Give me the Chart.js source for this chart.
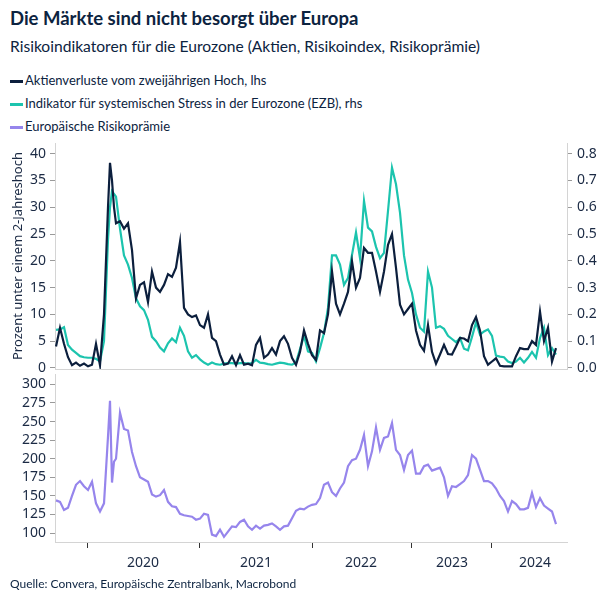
<!DOCTYPE html>
<html>
<head>
<meta charset="utf-8">
<script src="https://cdn.jsdelivr.net/npm/chart.js@4.4.1/dist/chart.umd.min.js"></script>
<style>
  body { margin: 0; background: #fff; font-family: Lato, "Noto Sans", sans-serif; color: #0c2340; }
  #wrap { position: relative; width: 604px; height: 604px; overflow: hidden; }
  .title { position: absolute; left: 10px; top: 7px; font-size: 18.5px; font-weight: bold; }
  .sub { position: absolute; left: 10px; top: 37px; font-size: 15.6px; }
  .leg { position: absolute; left: 10px; font-size: 13px; }
  .leg span { display: inline-block; width: 13px; height: 3px; margin-right: 2px; vertical-align: middle; }
  .src { position: absolute; left: 10px; top: 576px; font-size: 12px; }
  canvas { position: absolute; left: 0; }
</style>
</head>
<body>
<div id="wrap">
  <div class="title">Die Märkte sind nicht besorgt über Europa</div>
  <div class="sub">Risikoindikatoren für die Eurozone (Aktien, Risikoindex, Risikoprämie)</div>
  <div class="leg" style="top:72px"><span style="background:#0c1f3d"></span>Aktienverluste vom zweijährigen Hoch, lhs</div>
  <div class="leg" style="top:95px"><span style="background:#1cc4ae"></span>Indikator für systemischen Stress in der Eurozone (EZB), rhs</div>
  <div class="leg" style="top:118px"><span style="background:#9685ec"></span>Europäische Risikoprämie</div>
  <canvas id="top" width="604" height="240" style="top:135px"></canvas>
  <canvas id="bot" width="604" height="230" style="top:370px"></canvas>
  <div class="src">Quelle: Convera, Europäische Zentralbank, Macrobond</div>
</div>
<script>
// position along the time axis (plot index)
const idx = [0,1,2,3,4,5,6,7,8,9,10,11,12,13,13.5,14,14.5,15,16,17,18,19,20,21,22,23,24,25,26,27,28,29,30,
  31,32,33,34,35,36,37,38,39,40,41,42,43,44,45,46,47,48,49,50,51,52,53,54,55,56,57,58,59,60,
  61,62,63,64,65,66,67,68,69,70,71,72,73,74,75,76,77,78,79,80,81,82,83,84,85,86,87,88,89,90,
  91,92,93,94,95,96,97,98,99,100,101,102,103,104,105,106,107,108,109,110,111,112,113,114,115,116,117,118,119,120,
  121,122,123,124,125];

const equityLoss = [4.0,7.5,4.5,2.0,0.5,1.0,0.4,0.8,0.3,0.6,4.5,0.5,10,30,38.3,35,30,27,27.4,26,27,22,13,15.5,16,12.3,
  18,15,14.2,15.5,17.5,17,18.7,23.5,11.2,10,9.5,9.8,8,7.5,10,5.6,5,2.5,0.6,0.8,2.2,0.5,2.4,0.6,0.8,0.5,
  4.3,5.6,1.9,2.5,3.7,2.5,5.0,5.9,4.5,1.9,0.6,3,7,4.5,2.4,1.5,7,6.5,10,18,12,10,12,14.2,19.9,15,16.8,22.4,
  21.5,21.5,18,14.2,18,23,25,18.7,11.8,10,11,12,7,4.3,3.2,8,3,0.8,2.5,4.3,2.6,2.5,4,5.6,5.5,5,8,9.5,7,
  2.2,0.6,1.2,1.8,0.4,0.3,0.3,0.3,2.2,3.7,3.5,3.5,5,4.3,10.5,5,7.5,1.2,3.7];

const stressIdx = [0.142,0.144,0.152,0.086,0.068,0.056,0.044,0.040,0.038,0.038,0.034,0.024,0.10,0.48,0.60,0.66,0.65,0.64,
  0.52,0.42,0.386,0.336,0.26,0.23,0.216,0.18,0.116,0.10,0.076,0.062,0.092,0.11,0.096,0.15,0.12,0.062,0.038,0.048,
  0.032,0.02,0.012,0.02,0.014,0.012,0.016,0.018,0.018,0.016,0.018,0.018,0.016,0.018,0.03,0.02,0.018,0.014,0.012,
  0.016,0.02,0.018,0.014,0.012,0.02,0.07,0.12,0.062,0.056,0.024,0.074,0.13,0.224,0.42,0.42,0.386,0.31,0.336,0.422,
  0.506,0.41,0.624,0.524,0.51,0.452,0.41,0.43,0.586,0.748,0.686,0.58,0.42,0.33,0.28,0.20,0.15,0.136,0.36,0.30,
  0.15,0.156,0.146,0.12,0.108,0.096,0.112,0.072,0.066,0.116,0.17,0.124,0.136,0.144,0.12,0.046,0.042,0.04,0.024,
  0.018,0.024,0.038,0.02,0.038,0.06,0.038,0.112,0.15,0.048,0.074,0.05];

const riskPremium = [144,142,131,134,150,165,170,163,158,169,140,129,140,230,278,168,196,200,262,240,238,209,190,175,
  172,169,152,149,151,158,142,136,135,126,124,123,122,118,119.5,126,124.5,98,96,104.5,95,102,109,108,115,118,
  109,104.5,110,106,110,111,113,109,104.5,109,110,120,130,133,132,135.6,138,139,147,165,168,155,150,160,168,190,
  198,200,212,232,190,210,242,212,228,230,248,212,205,185,205,211,180,180,190,192,184,186,188,175,150,163,162,
  166,170,178,205,200,185,170,170,167,160,150,143,129,143,139,132,132,134,154,135,147,137,133,129,112];

const yearBounds = [7.75, 35.75, 64, 88.75, 108.75];
const yearLabels = ['2020', '2021', '2022', '2023', '2024'];
const yearLabelPos = [21.75, 50, 76.25, 99, 119.75];

const ink = '#1b2a44';
const axisGrey = '#d4d4d4';
const tickFont = { family: 'Noto Sans', size: 14 };
const xMin = -0.25, xMax = 127.75;

function pts(ys) { return idx.map((x, i) => ({ x: x, y: ys[i] })); }
// keep plot areas fixed: no extra room for edge labels
function noPad(s) { s.paddingTop = 0; s.paddingBottom = 0; s.paddingLeft = 0; s.paddingRight = 0; }

new Chart(document.getElementById('top'), {
  type: 'line',
  data: {
    datasets: [
      { data: pts(equityLoss), yAxisID: 'y', borderColor: '#0c1f3d', borderWidth: 2.2 },
      { data: pts(stressIdx), yAxisID: 'y2', borderColor: '#1cc4ae', borderWidth: 2.2 }
    ]
  },
  options: {
    responsive: false,
    animation: false,
    layout: { padding: { top: 8, bottom: 6, left: 0, right: 0 } },
    elements: { point: { radius: 0 }, line: { tension: 0 } },
    plugins: { legend: { display: false }, tooltip: { enabled: false } },
    scales: {
      x: {
        type: 'linear', min: xMin, max: xMax,
        ticks: { display: false },
        grid: { display: false },
        border: { display: true, color: axisGrey },
        afterFit: (s) => { s.height = 0; noPad(s); }
      },
      y: {
        position: 'left', min: -0.2, max: 42,
        ticks: { stepSize: 5, includeBounds: false, color: ink, font: tickFont, padding: 4 },
        grid: { drawOnChartArea: false, tickLength: 5, color: '#9a9a9a' },
        border: { display: true, color: axisGrey },
        title: { display: true, text: 'Prozent unter einem 2-Jahreshoch', color: ink,
                 font: { family: 'Noto Sans', size: 13 }, padding: { top: 10 } },
        afterFit: (s) => { s.width = 55; noPad(s); }
      },
      y2: {
        position: 'right', min: -0.004, max: 0.84,
        ticks: { stepSize: 0.1, includeBounds: false, color: ink, font: tickFont, padding: 5,
                 callback: (v) => v.toFixed(1) },
        grid: { drawOnChartArea: false, tickLength: 5, color: '#9a9a9a' },
        border: { display: true, color: axisGrey },
        afterFit: (s) => { s.width = 37; noPad(s); }
      }
    }
  }
});

new Chart(document.getElementById('bot'), {
  type: 'line',
  data: {
    datasets: [
      { data: pts(riskPremium), yAxisID: 'y', borderColor: '#9685ec', borderWidth: 2.2 }
    ]
  },
  options: {
    responsive: false,
    animation: false,
    layout: { padding: { top: 4, bottom: 0, left: 0, right: 37 } },
    elements: { point: { radius: 0 }, line: { tension: 0 } },
    plugins: { legend: { display: false }, tooltip: { enabled: false } },
    scales: {
      x: {
        type: 'linear', min: xMin, max: xMax,
        afterBuildTicks: (s) => {
          s.ticks = yearBounds.concat(yearLabelPos).sort((a, b) => a - b).map(v => ({ value: v }));
        },
        ticks: {
          autoSkip: false, maxRotation: 0, color: ink, font: tickFont, padding: 7,
          callback: (v) => { const i = yearLabelPos.indexOf(v); return i >= 0 ? yearLabels[i] : ''; }
        },
        grid: {
          drawOnChartArea: false, tickLength: 6,
          tickColor: (c) => (c.tick && yearBounds.includes(c.tick.value)) ? '#333' : 'rgba(0,0,0,0)'
        },
        border: { display: true, color: axisGrey },
        afterFit: (s) => { s.height = 58; noPad(s); }
      },
      y: {
        position: 'left', min: 88, max: 314,
        ticks: { stepSize: 25, includeBounds: false, color: ink, font: tickFont, padding: 4 },
        grid: { drawOnChartArea: false, tickLength: 5, color: '#9a9a9a' },
        border: { display: true, color: axisGrey },
        afterFit: (s) => { s.width = 55; noPad(s); }
      }
    }
  }
});
</script>
</body>
</html>
